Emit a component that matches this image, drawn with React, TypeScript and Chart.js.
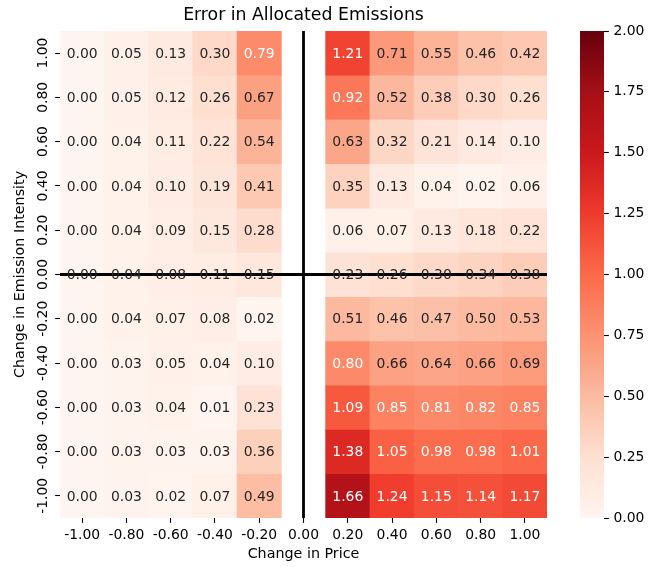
import React, { useEffect, useRef } from "react";
import { Chart, registerables } from "chart.js";

Chart.register(...registerables);

const FONT = "'DejaVu Sans', sans-serif";

// ---- data ----
const xLabels = ["-1.00", "-0.80", "-0.60", "-0.40", "-0.20", "0.00", "0.20", "0.40", "0.60", "0.80", "1.00"];
const yValues = [1.0, 0.8, 0.6, 0.4, 0.2, 0.0, -0.2, -0.4, -0.6, -0.8, -1.0];

const rowP100 = [0.0, 0.05, 0.13, 0.3, 0.79, null, 1.21, 0.71, 0.55, 0.46, 0.42];
const rowP080 = [0.0, 0.05, 0.12, 0.26, 0.67, null, 0.92, 0.52, 0.38, 0.3, 0.26];
const rowP060 = [0.0, 0.04, 0.11, 0.22, 0.54, null, 0.63, 0.32, 0.21, 0.14, 0.1];
const rowP040 = [0.0, 0.04, 0.1, 0.19, 0.41, null, 0.35, 0.13, 0.04, 0.02, 0.06];
const rowP020 = [0.0, 0.04, 0.09, 0.15, 0.28, null, 0.06, 0.07, 0.13, 0.18, 0.22];
const rowZ000 = [0.0, 0.04, 0.08, 0.11, 0.15, null, 0.23, 0.26, 0.3, 0.34, 0.38];
const rowN020 = [0.0, 0.04, 0.07, 0.08, 0.02, null, 0.51, 0.46, 0.47, 0.5, 0.53];
const rowN040 = [0.0, 0.03, 0.05, 0.04, 0.1, null, 0.8, 0.66, 0.64, 0.66, 0.69];
const rowN060 = [0.0, 0.03, 0.04, 0.01, 0.23, null, 1.09, 0.85, 0.81, 0.82, 0.85];
const rowN080 = [0.0, 0.03, 0.03, 0.03, 0.36, null, 1.38, 1.05, 0.98, 0.98, 1.01];
const rowN100 = [0.0, 0.03, 0.02, 0.07, 0.49, null, 1.66, 1.24, 1.15, 1.14, 1.17];

const rows: (number | null)[][] = [rowP100, rowP080, rowP060, rowP040, rowP020, rowZ000, rowN020, rowN040, rowN060, rowN080, rowN100];

const vMin = 0;
const vMax = 2;
const colorbarStep = 0.25;

const titleText = "Error in Allocated Emissions";
const xTitle = "Change in Price";
const yTitle = "Change in Emission Intensity";

// matplotlib "Reds"
const REDS = [
  [255, 245, 240],
  [254, 224, 210],
  [252, 187, 161],
  [252, 146, 114],
  [251, 106, 74],
  [239, 59, 44],
  [203, 24, 29],
  [165, 15, 21],
  [103, 0, 13],
];

function redsAt(t: number): number[] {
  const s = Math.max(0, Math.min(1, t)) * (REDS.length - 1);
  const i = Math.min(REDS.length - 2, Math.floor(s));
  const f = s - i;
  return [0, 1, 2].map((k) => REDS[i][k] + (REDS[i + 1][k] - REDS[i][k]) * f);
}

function redsRgb(v: number): number[] {
  const t = (v - vMin) / (vMax - vMin);
  const idx = Math.max(0, Math.min(255, Math.floor(t * 256)));
  return redsAt(idx / 255);
}

function css(c: number[]): string {
  return `rgb(${Math.round(c[0])},${Math.round(c[1])},${Math.round(c[2])})`;
}

function luminance(c: number[]): number {
  const lin = c.map((x) => {
    const v = x / 255;
    return v <= 0.03928 ? v / 12.92 : Math.pow((v + 0.055) / 1.055, 2.4);
  });
  return 0.2126 * lin[0] + 0.7152 * lin[1] + 0.0722 * lin[2];
}

function textColorFor(v: number): string {
  return luminance(redsRgb(v)) > 0.408 ? "#262626" : "#ffffff";
}

const tickGrid = {
  display: true,
  drawOnChartArea: false,
  drawTicks: true,
  tickLength: 4.86,
  tickWidth: 1.1,
  tickColor: "#000",
};

const heatPlugin = {
  id: "heatAnnotations",
  afterDatasetsDraw(chart: any) {
    const { ctx, chartArea, scales } = chart;
    const x = scales.x;
    const y = scales.y;
    ctx.save();
    // zero guide lines
    ctx.strokeStyle = "#000";
    ctx.lineWidth = 2.8;
    const zx = x.getPixelForValue(xLabels.indexOf("0.00"));
    const zy = y.getPixelForValue(0);
    ctx.beginPath();
    ctx.moveTo(zx, chartArea.top);
    ctx.lineTo(zx, chartArea.bottom);
    ctx.stroke();
    ctx.beginPath();
    ctx.moveTo(chartArea.left, zy);
    ctx.lineTo(chartArea.right, zy);
    ctx.stroke();

    // cell annotations
    ctx.font = `13.9px ${FONT}`;
    ctx.textAlign = "center";
    ctx.textBaseline = "alphabetic";
    rows.forEach((row, r) => {
      const py = y.getPixelForValue(yValues[r]);
      row.forEach((v, j) => {
        if (v === null) return;
        const px = x.getPixelForValue(j);
        ctx.fillStyle = textColorFor(v);
        ctx.fillText(v.toFixed(2), px, py + 4.7);
      });
    });

    // rotated y tick labels
    ctx.fillStyle = "#000";
    yValues.forEach((v) => {
      const py = y.getPixelForValue(v);
      ctx.save();
      ctx.translate(chartArea.left - 13.3, py);
      ctx.rotate(-Math.PI / 2);
      ctx.textAlign = "center";
      ctx.textBaseline = "alphabetic";
      ctx.fillText(v.toFixed(2), 0, 0);
      ctx.restore();
    });
    ctx.restore();
  },
};

export default function App() {
  const mainRef = useRef<HTMLCanvasElement | null>(null);
  const cbRef = useRef<HTMLCanvasElement | null>(null);

  useEffect(() => {
    Chart.defaults.font.family = FONT;
    const half = Math.abs(yValues[0] - yValues[1]) / 2;

    const datasets = rows.map((row, r) => ({
      label: yValues[r].toFixed(2),
      data: row.map((v) => (v === null ? null : [yValues[r] - half, yValues[r] + half])),
      backgroundColor: row.map((v) => (v === null ? "rgba(0,0,0,0)" : css(redsRgb(v)))),
      borderWidth: 0,
      barPercentage: 1,
      categoryPercentage: 1,
      grouped: false,
    }));

    const main = new Chart(mainRef.current as HTMLCanvasElement, {
      type: "bar",
      data: { labels: xLabels, datasets: datasets as any },
      options: {
        responsive: false,
        animation: false,
        devicePixelRatio: 1,
        events: [],
        layout: { padding: { left: 0, right: 102, top: 0, bottom: 0 } },
        plugins: {
          legend: { display: false },
          tooltip: { enabled: false },
          title: {
            display: true,
            text: titleText,
            fullSize: false,
            color: "#000",
            font: { family: FONT, size: 17.3, weight: "normal", lineHeight: 1.2 },
            padding: { top: 5.6, bottom: 4.6 },
          },
        },
        scales: {
          x: {
            type: "category",
            offset: true,
            grid: { ...tickGrid, offset: false },
            border: { display: false },
            ticks: {
              color: "#000",
              font: { family: FONT, size: 13.9 },
              padding: 3.8,
              maxRotation: 0,
              minRotation: 0,
              autoSkip: false,
            },
            title: {
              display: true,
              text: xTitle,
              color: "#000",
              font: { family: FONT, size: 14.3 },
              padding: { top: 0, bottom: 4.4 },
            },
            afterFit: (s: any) => {
              s.height = 49;
            },
          },
          y: {
            type: "linear",
            min: -1.1,
            max: 1.1,
            afterBuildTicks: (s: any) => {
              s.ticks = yValues.map((v) => ({ value: v }));
            },
            grid: tickGrid,
            border: { display: false },
            ticks: { display: false },
            title: {
              display: true,
              text: yTitle,
              color: "#000",
              font: { family: FONT, size: 14.3 },
              padding: { top: 11.8, bottom: 0 },
            },
            afterFit: (s: any) => {
              s.width = 60;
            },
          },
        },
      } as any,
      plugins: [heatPlugin],
    });

    const cb = new Chart(cbRef.current as HTMLCanvasElement, {
      type: "bar",
      data: {
        labels: [""],
        datasets: [
          {
            data: [[vMin, vMax]] as any,
            backgroundColor: (c: any) => {
              const area = c.chart.chartArea;
              if (!area) return css(REDS[4]);
              const g = c.chart.ctx.createLinearGradient(0, area.bottom, 0, area.top);
              REDS.forEach((col, i) => g.addColorStop(i / (REDS.length - 1), css(col)));
              return g;
            },
            borderWidth: 0,
            barPercentage: 1,
            categoryPercentage: 1,
          },
        ],
      },
      options: {
        responsive: false,
        animation: false,
        devicePixelRatio: 1,
        events: [],
        layout: { padding: { left: 580, right: 0, top: 31, bottom: 49 } },
        plugins: { legend: { display: false }, tooltip: { enabled: false }, title: { display: false } },
        scales: {
          x: { display: false },
          y: {
            type: "linear",
            position: "right",
            min: vMin,
            max: vMax,
            grid: tickGrid,
            border: { display: false },
            ticks: {
              stepSize: colorbarStep,
              color: "#000",
              font: { family: FONT, size: 13.9 },
              padding: 4.6,
              callback: (v: any) => Number(v).toFixed(2),
            },
            afterFit: (s: any) => {
              s.width = 45;
            },
          },
        },
      } as any,
    });

    return () => {
      main.destroy();
      cb.destroy();
    };
  }, []);

  return (
    <div style={{ position: "absolute", left: 0, top: 0, width: 649, height: 567, background: "#fff" }}>
      <canvas ref={mainRef} width={649} height={567} style={{ position: "absolute", left: 0, top: 0, display: "block" }} />
      <canvas ref={cbRef} width={649} height={567} style={{ position: "absolute", left: 0, top: 0, display: "block" }} />
    </div>
  );
}
